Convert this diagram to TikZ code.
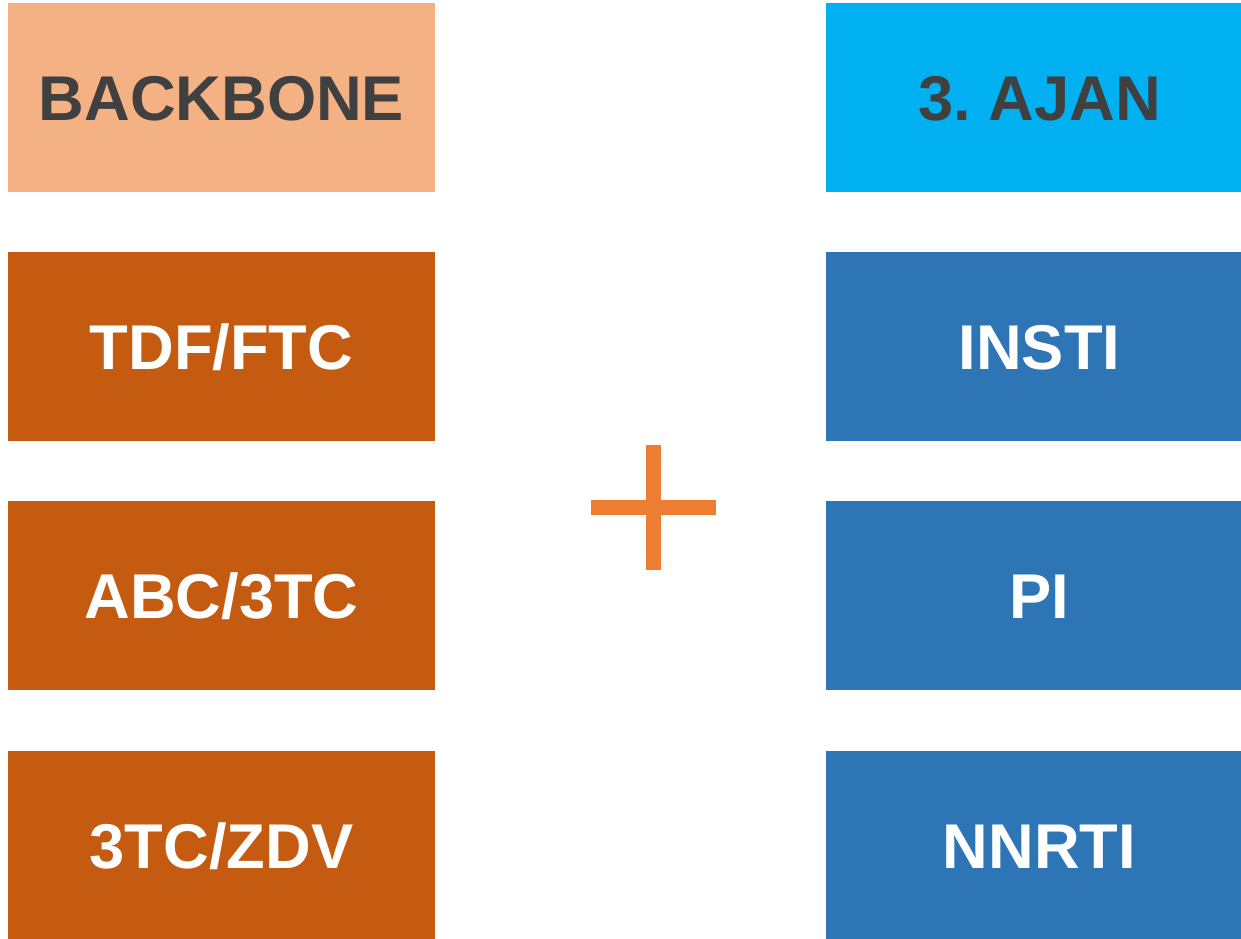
\documentclass[tikz,border=0pt]{standalone}
\usepackage{fontspec}
\setmainfont{Liberation Sans}
\usetikzlibrary{positioning}
\definecolor{peach}{HTML}{F4B183}
\definecolor{rust}{HTML}{C55A11}
\definecolor{skyblue}{HTML}{00B0F0}
\definecolor{steelblue}{HTML}{2E75B6}
\definecolor{plusorange}{HTML}{ED7D31}
\definecolor{darktext}{HTML}{404040}
\frenchspacing
\begin{document}
\begin{tikzpicture}[x=0.02cm, y=-0.02cm]
            \tikzset {
                basic box/.style={
                        inner sep=0pt,
                        font=\fontsize{36pt}{40pt}\selectfont\bfseries,
                        text height=26pt,
                        text depth=0pt,
                        align=center,
                        minimum width=8.54cm,
                        minimum height=3.78cm,
                        text=white
                    },
                left box/.style={basic box, fill=rust},
                right box/.style={basic box, fill=steelblue}
            }
            \useasboundingbox (0,0) rectangle (1241,938);

            % backbone column
            \node[left box, fill=peach, text=darktext] (backbone) at (221.5,97.5) {BACKBONE};
            \node[left box] (tdfftc) at (221.5,346.5) {TDF/FTC};
            \node[left box] (abc) at (221.5,595.5) {ABC/3TC};
            \node[left box] (zdv) at (221.5,845.5) {3TC/ZDV};

            % third agent column (runs past the page edge)
            \node[right box, fill=skyblue, text=darktext] (ajan) at (1039.5,97.5) {3. AJAN};
            \node[right box] (insti) at (1039.5,346.5) {INSTI};
            \node[right box] (pi) at (1039.5,595.5) {PI};
            \node[right box] (nnrti) at (1039.5,845.5) {NNRTI};

            % plus sign
            \fill[plusorange] (591,500) rectangle (716,515);
            \fill[plusorange] (646,445) rectangle (661,570);
\end{tikzpicture}
\end{document}
